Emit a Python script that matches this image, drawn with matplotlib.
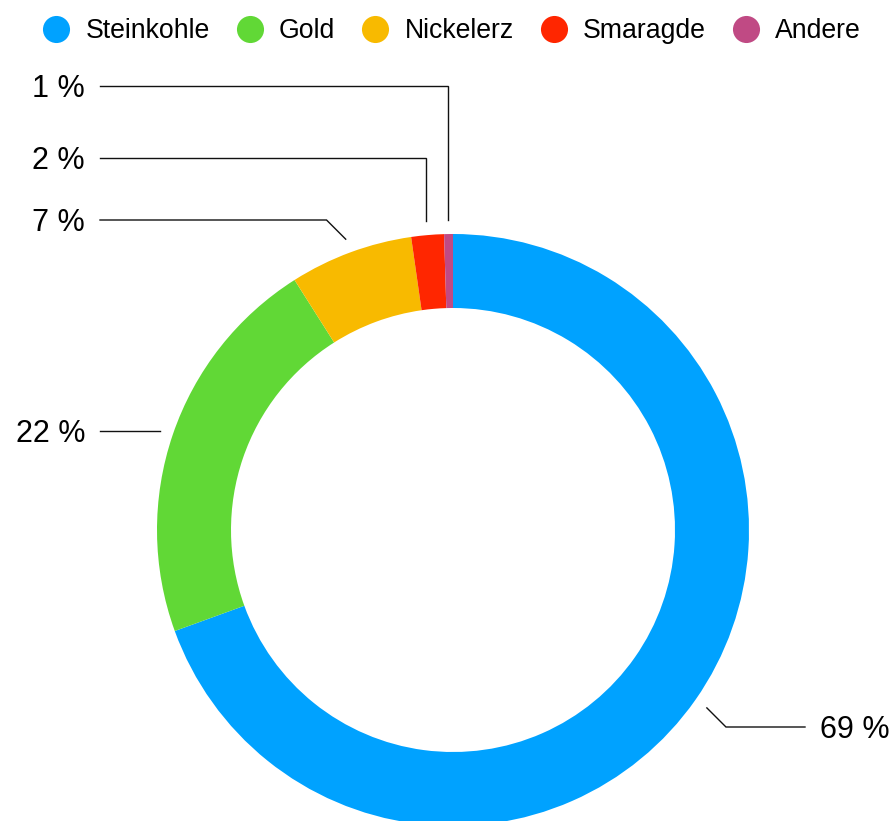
import numpy as np
import matplotlib
matplotlib.use('Agg')
import matplotlib.pyplot as plt
from matplotlib.lines import Line2D

plt.rcParams['font.family'] = ['Liberation Sans', 'DejaVu Sans']

categories = ['Steinkohle', 'Gold', 'Nickelerz', 'Smaragde', 'Andere']
shares = [69.45, 21.55, 6.73, 1.78, 0.48]
share_labels = ['69 %', '22 %', '7 %', '2 %', '1 %']
colors = ['#00A2FF', '#61D836', '#F8BA00', '#FF2600', '#C04A84']

W, H = 894, 821
fig = plt.figure(figsize=(W / 100, H / 100), dpi=100)
ax = fig.add_axes([0, 0, 1, 1])

cx, cy, R, ring = 453, H - 530, 296, 74
wedges, _ = ax.pie(shares, colors=colors, startangle=90, counterclock=False,
                   radius=R, center=(cx, cy), frame=True,
                   wedgeprops=dict(width=ring, linewidth=0))
ax.set_xlim(0, W)
ax.set_ylim(0, H)
ax.set_aspect('equal')
ax.axis('off')

# label heights (pixels from top), leader lines start just outside the ring
label_y = [727, 431, 220, 158, 86]
for w, txt, ly in zip(wedges, share_labels, label_y):
    mid = np.deg2rad((w.theta1 + w.theta2) / 2)
    c, s = np.cos(mid), np.sin(mid)
    sx, sy = cx + (R + 14) * c, cy + (R + 14) * s
    ty = H - ly
    dy = ty - sy
    if abs(dy) < 3:
        ex = sx
    elif abs(dy) < 30:
        ex = sx + np.sign(c) * abs(dy)
    else:
        ex = sx
    if c > 0:
        hx, tx, ha = 805, 820, 'left'
    else:
        hx, tx, ha = 100, 85, 'right'
    ax.plot([sx, ex, hx], [ty if abs(dy) < 3 else sy, ty, ty], color='#111111',
            lw=1.0, solid_joinstyle='miter')
    ax.text(tx, ty - 11, txt, ha=ha, va='baseline', fontsize=22, color='black')

handles = [Line2D([], [], marker='o', ls='', markersize=19.5, markeredgewidth=0,
                  color=col) for col in colors]
fig.legend(handles, categories, loc='center', bbox_to_anchor=(452 / W, 1 - 31 / H),
           ncol=5, frameon=False, fontsize=19.2, handlelength=1.0,
           handletextpad=0.6, columnspacing=1.0, borderpad=0, borderaxespad=0)

fig.savefig('out.png', dpi=100)
